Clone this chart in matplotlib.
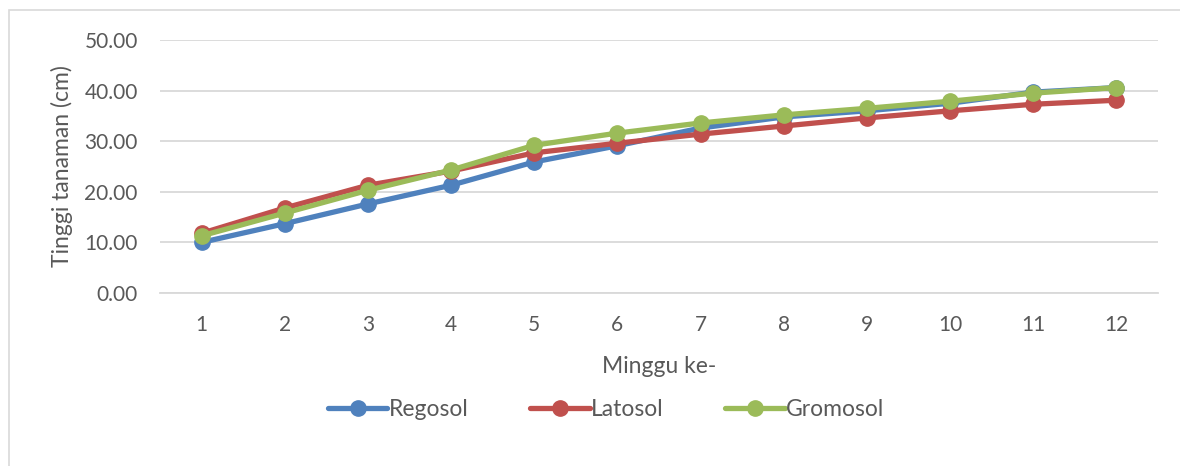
import numpy as np
import matplotlib.pyplot as plt
from matplotlib.patches import Rectangle

weeks = [1, 2, 3, 4, 5, 6, 7, 8, 9, 10, 11, 12]
regosol = [10.0, 13.7, 17.6, 21.3, 25.9, 29.1, 32.6, 34.8, 36.0, 37.5, 39.7, 40.6]
latosol = [11.8, 16.8, 21.3, 24.1, 27.7, 29.6, 31.4, 33.0, 34.6, 36.0, 37.3, 38.1]
gromosol = [11.3, 15.8, 20.3, 24.3, 29.2, 31.6, 33.6, 35.2, 36.5, 37.9, 39.5, 40.6]

plt.rcParams['font.family'] = ['Lato', 'DejaVu Sans']
txt = '#595959'

fig = plt.figure(figsize=(11.8, 4.66), dpi=100)
ax = fig.add_axes([160 / 1180, 1 - 293 / 466, 998 / 1180, 253 / 466])

series = [(regosol, '#4f81bd', 'Regosol'),
          (latosol, '#c0504d', 'Latosol'),
          (gromosol, '#9bbb59', 'Gromosol')]
for vals, col, name in series:
    ax.plot(weeks, vals, color=col, lw=3.8, marker='o', ms=11, label=name,
            solid_capstyle='round', zorder=3)

ax.set_xlim(0.5, 12.5)
ax.set_ylim(0, 50)
ax.set_xticks(weeks)
ax.set_yticks(np.arange(0, 51, 10))
ax.set_yticklabels([f'{v:.2f}' for v in np.arange(0, 51, 10)])
ax.tick_params(length=0, labelsize=15, colors=txt)
ax.tick_params(axis='y', pad=16)
ax.tick_params(axis='x', pad=16)
ax.grid(axis='y', color='#d9d9d9', lw=1.3, zorder=0)
for s in ['top', 'right', 'left']:
    ax.spines[s].set_visible(False)
ax.spines['bottom'].set_color('#d9d9d9')
ax.spines['bottom'].set_linewidth(1.3)

ax.set_xlabel('Minggu ke-', fontsize=16.5, color=txt, labelpad=15)
ax.set_ylabel('Tinggi tanaman (cm)', fontsize=16.5, color=txt, labelpad=8)

fig.legend(loc='center', bbox_to_anchor=(606 / 1180, 1 - 410 / 466), ncol=3,
           frameon=False, fontsize=16.5, labelcolor=txt, handlelength=2.6,
           columnspacing=2.7, handletextpad=0.05)

fig.patches.append(Rectangle((9 / 1180, -10 / 466), 1200 / 1180, 466 / 466,
                             transform=fig.transFigure, fill=False,
                             edgecolor='#d9d9d9', lw=1.2))

fig.savefig('out.png', dpi=100)
